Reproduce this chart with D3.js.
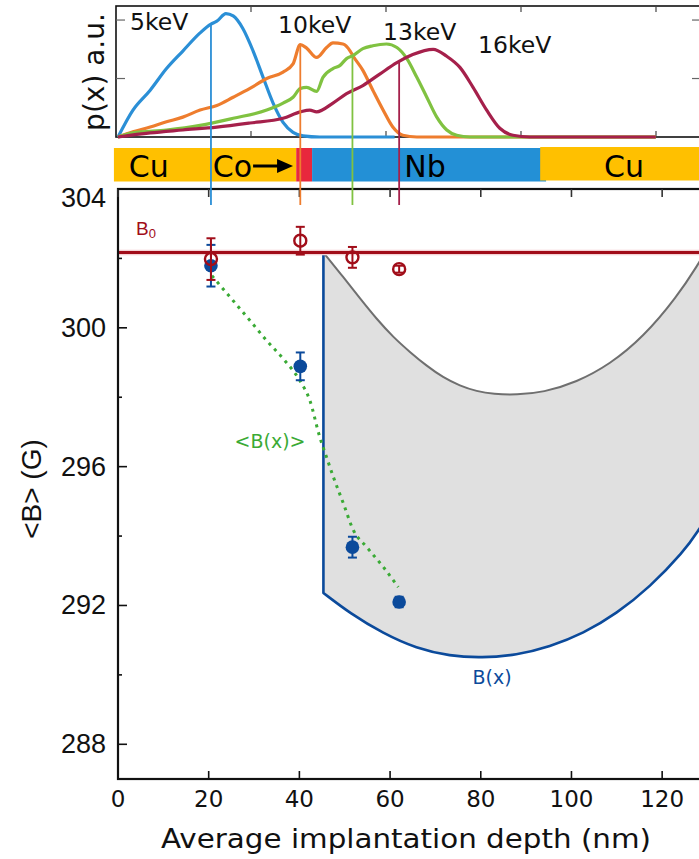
<!DOCTYPE html>
<html>
<head>
<meta charset="utf-8">
<script src="https://cdn.jsdelivr.net/npm/d3@7/dist/d3.min.js"></script>
<style>
  body { margin: 0; background: #fff; }
  svg { display: block; }
</style>
</head>
<body>
<div id="vis"></div>
<script>
// ---- data ----
const DEPTHS = [20.5, 40.2, 51.7, 62.0];            // average implantation depth (nm)
const ENERGIES = ["5keV", "10keV", "13keV", "16keV"];
const B_MEAN = [301.79, 298.89, 293.68, 292.10];     // filled blue points
const B_MEAN_ERR = [0.6, 0.4, 0.3, 0.15];
const B_REF = [301.98, 302.51, 302.03, 301.69];      // open red points
const B_REF_ERR = [0.6, 0.4, 0.3, 0.1];
const B0 = 302.17;

// <B(x)> dotted green curve
const B_AVG = [[20.7, 301.50], [25.4, 300.78], [29.1, 300.21], [32.8, 299.63], [36.5, 299.10],
  [40.1, 298.48], [42.3, 297.91], [44.5, 296.85], [46.0, 296.27], [47.5, 295.70],
  [49.7, 294.94], [51.9, 294.17], [54.8, 293.69], [58.5, 293.11], [61.8, 292.53]];

// B(x) lower blue curve, after the vertical step at the Nb edge
const B_STEP = [45.3, 302.17];
const B_LOWER = [[45.3, 292.36], [51.2, 291.77], [58.5, 291.19], [65.8, 290.76],
  [73.2, 290.54], [80.2, 290.49], [87.9, 290.57], [95.2, 290.81], [102.6, 291.19],
  [110.0, 291.77], [117.3, 292.53], [124.7, 293.54], [128.1, 294.17], [130.0, 294.6]];

// upper grey curve
const B_UPPER = [[45.4, 302.15], [49.7, 301.46], [53.4, 300.84], [57.0, 300.26], [60.7, 299.73],
  [64.4, 299.30], [68.0, 298.91], [71.7, 298.57], [75.4, 298.33], [79.1, 298.17],
  [82.8, 298.09], [87.9, 298.07], [93.8, 298.14], [101.1, 298.43], [108.5, 298.95],
  [115.8, 299.73], [123.2, 300.88], [128.0, 301.84], [130.0, 302.3]];

// implantation profiles p(x), arbitrary units
const PROFILE_5 = [[0, 0], [3.3, 0.46], [7.1, 0.80], [10.7, 1.17], [14.3, 1.47], [18.1, 1.78],
  [20.5, 1.93], [21.8, 1.98], [23.8, 2.11], [25.4, 2.07], [27.5, 1.86], [29.8, 1.47],
  [32.0, 1.02], [34.2, 0.58], [36.4, 0.25], [38.6, 0.08], [40.8, 0.02], [44.5, 0], [61, 0]];
const PROFILE_10 = [[0, 0], [3.3, 0.09], [7.1, 0.17], [10.7, 0.26], [14.3, 0.34], [18.1, 0.46],
  [21.8, 0.54], [25.4, 0.68], [29.1, 0.83], [32.8, 1.00], [36.4, 1.11], [38.6, 1.25],
  [40.2, 1.58], [41.6, 1.52], [43.8, 1.36], [46.0, 1.53], [47.4, 1.61], [49.6, 1.59],
  [51.2, 1.47], [51.8, 1.39], [54.0, 1.14], [56.2, 0.80], [58.4, 0.47], [60.6, 0.17],
  [62.8, 0.03], [65.9, 0], [118.6, 0]];
const PROFILE_13 = [[0, 0], [3.3, 0.07], [10.7, 0.12], [18.1, 0.20], [25.4, 0.32], [32.8, 0.46],
  [36.4, 0.58], [38.6, 0.68], [40.2, 0.83], [41.6, 0.85], [43.8, 0.78], [45.2, 1.02],
  [47.4, 1.17], [48.9, 1.22], [50.4, 1.34], [51.8, 1.39], [54.0, 1.51], [56.2, 1.56],
  [59.2, 1.59], [61.5, 1.53], [63.7, 1.34], [65.9, 1.02], [68.1, 0.68], [70.3, 0.34],
  [72.5, 0.12], [74.7, 0.03], [77.6, 0], [118.6, 0]];
const PROFILE_16 = [[0, 0], [7.1, 0.07], [14.3, 0.12], [21.8, 0.17], [29.1, 0.24], [36.4, 0.32],
  [40.2, 0.43], [42.3, 0.46], [43.8, 0.43], [47.4, 0.58], [50.4, 0.74], [54.0, 0.88],
  [57.8, 1.08], [61.5, 1.27], [65.0, 1.41], [69.5, 1.50], [72.5, 1.38], [75.4, 1.19],
  [78.3, 0.85], [81.3, 0.46], [84.2, 0.15], [87.1, 0.03], [90.8, 0], [118.6, 0]];
const PROFILES = [PROFILE_5, PROFILE_10, PROFILE_13, PROFILE_16];
const LINE_TOPS = [1.94, 1.58, 1.39, 1.28];          // where the depth markers meet their profile

// sample layers
const LAYERS = ["Cu", "Co", "Nb", "Cu"];
const LAYER_START = [-0.9, 39.3, 42.8, 93.1];
const LAYER_END = [39.3, 42.8, 94.4, 135];

// ticks
const X_TICKS = [0, 20, 40, 60, 80, 100, 120];
const Y_TICKS = [288, 292, 296, 300, 304];
const Y_MINOR = [290, 294, 298, 302];
const TOP_X_TICKS = [30, 60, 90, 120];
const TOP_Y_TICKS = [1, 2];

// ---- layout ----
const WIDTH = 699;
const HEIGHT = 859;
const SANS = "'DejaVu Sans', sans-serif";
const ARIAL = "'Liberation Sans', Arial, sans-serif";
const COLORES = ["#2b8fd6", "#ee7d2e", "#80c241", "#a5204b"];
const COLORES_CAPA = { "Cu": "#ffc000", "Co": "#e8283d", "Nb": "#2390d6" };
const AZUL = "#0b4a9b";
const ROJO = "#a10d19";
const VERDE = "#3aaa35";

const SVG = d3.select("#vis").append("svg")
  .attr("width", WIDTH).attr("height", HEIGHT);

const xMain = d3.scaleLinear().domain([0, 130]).range([118, 707.5]);
const xTop = d3.scaleLinear().domain([0, 130]).range([116, 701]);
const yTop = d3.scaleLinear().domain([0, 2.24]).range([137, 6]);
const yMain = d3.scaleLinear().domain([287, 304]).range([779, 189]);

// ---- top panel: implantation profiles ----
const panelTop = SVG.append("g");
panelTop.append("rect")
  .attr("x", 116).attr("y", 6).attr("width", 620).attr("height", 131)
  .attr("fill", "none").attr("stroke", "#111").attr("stroke-width", 1.6);

TOP_X_TICKS.forEach(t => {
  panelTop.append("line").attr("x1", xTop(t)).attr("x2", xTop(t)).attr("y1", 137).attr("y2", 131)
    .attr("stroke", "#444").attr("stroke-width", 1.2);
  panelTop.append("line").attr("x1", xTop(t)).attr("x2", xTop(t)).attr("y1", 6).attr("y2", 12)
    .attr("stroke", "#444").attr("stroke-width", 1.2);
});
TOP_Y_TICKS.forEach(t => {
  panelTop.append("line").attr("x1", 116).attr("x2", 125).attr("y1", yTop(t)).attr("y2", yTop(t))
    .attr("stroke", "#666").attr("stroke-width", 1.2);
  panelTop.append("line").attr("x1", 692).attr("x2", 699).attr("y1", yTop(t)).attr("y2", yTop(t))
    .attr("stroke", "#666").attr("stroke-width", 1.2);
});

const lineaTop = d3.line().x(d => xMain(d[0])).y(d => yTop(d[1])).curve(d3.curveMonotoneX);
panelTop.selectAll("path.perfil")
  .data(PROFILES)
  .join("path")
  .attr("class", "perfil")
  .attr("d", d => lineaTop(d))
  .attr("fill", "none")
  .attr("stroke", (d, i) => COLORES[i])
  .attr("stroke-width", 3.2)
  .attr("stroke-linejoin", "round");

const ETIQUETAS_TOP = [[130, 30], [278, 33], [383, 40], [478, 53]];
panelTop.selectAll("text.energia")
  .data(ENERGIES)
  .join("text")
  .attr("class", "energia")
  .attr("x", (d, i) => ETIQUETAS_TOP[i][0])
  .attr("y", (d, i) => ETIQUETAS_TOP[i][1])
  .attr("font-family", SANS).attr("font-size", 23.5).attr("fill", "#111")
  .text(d => d);

panelTop.append("text")
  .attr("transform", "translate(104,72) rotate(-90)")
  .attr("text-anchor", "middle")
  .attr("font-family", SANS).attr("font-size", 28).attr("fill", "#111")
  .text("p(x) a.u.");

// ---- layer bar ----
const capas = SVG.append("g");
LAYERS.forEach((c, i) => {
  const off = i === 3 ? -1 : 0;
  capas.append("rect")
    .attr("x", xMain(LAYER_START[i])).attr("y", 148 + off)
    .attr("width", xMain(LAYER_END[i]) - xMain(LAYER_START[i])).attr("height", 33.5)
    .attr("fill", COLORES_CAPA[c]);
});
const CAPA_TEXTO = [[6.8, "middle"], [20.9, "start"], [67.7, "middle"], [111.6, "middle"]];
LAYERS.forEach((c, i) => {
  if (c === "Co") {
    const t = capas.append("text")
      .attr("x", xMain(CAPA_TEXTO[i][0])).attr("y", 176.5)
      .attr("font-family", SANS).attr("font-size", 30).attr("fill", "#000")
      .text(c);
    const x0 = xMain(CAPA_TEXTO[i][0]) + t.node().getComputedTextLength() + 1;
    const x1 = xMain(38.6);
    capas.append("line").attr("x1", x0).attr("x2", x1 - 12).attr("y1", 166).attr("y2", 166)
      .attr("stroke", "#000").attr("stroke-width", 3);
    capas.append("path")
      .attr("d", `M${x1},166 L${x1 - 16},159 L${x1 - 16},173 Z`)
      .attr("fill", "#000");
  } else {
    capas.append("text")
      .attr("x", xMain(CAPA_TEXTO[i][0])).attr("y", 176.5)
      .attr("text-anchor", CAPA_TEXTO[i][1])
      .attr("font-family", SANS).attr("font-size", 30).attr("fill", "#000")
      .text(c);
  }
});

// ---- main panel ----
const gMain = SVG.append("g");
gMain.append("clipPath").attr("id", "clip")
  .append("rect").attr("x", 118).attr("y", 189).attr("width", 590).attr("height", 590);

const plot = gMain.append("g").attr("clip-path", "url(#clip)");

const suave = d3.line().x(d => xMain(d[0])).y(d => yMain(d[1])).curve(d3.curveBasis);
const pathUpper = suave(B_UPPER);
const pathLower = suave(B_LOWER);
const pathLowerRev = suave(B_LOWER.slice().reverse());

// shaded region between the two field profiles
plot.append("path")
  .attr("d", pathUpper + pathLowerRev.replace("M", "L") + "Z")
  .attr("fill", "#e0e0e0");

plot.append("path")
  .attr("d", pathUpper)
  .attr("fill", "none").attr("stroke", "#6f6f6f").attr("stroke-width", 2);

plot.append("path")
  .attr("d", `M${xMain(B_STEP[0])},${yMain(B_STEP[1])}` + pathLower.replace("M", "L"))
  .attr("fill", "none").attr("stroke", AZUL).attr("stroke-width", 2.6)
  .attr("stroke-linejoin", "round");

// B0 reference line
plot.append("rect")
  .attr("x", 118).attr("y", yMain(B0) - 2.8).attr("width", 600).attr("height", 5.6)
  .attr("fill", "#f4d3d5");
plot.append("line")
  .attr("x1", 118).attr("x2", 710).attr("y1", yMain(B0)).attr("y2", yMain(B0))
  .attr("stroke", ROJO).attr("stroke-width", 3.2);

// <B(x)> dotted
plot.append("path")
  .attr("d", d3.line().x(d => xMain(d[0])).y(d => yMain(d[1])).curve(d3.curveMonotoneX)(B_AVG))
  .attr("fill", "none").attr("stroke", VERDE).attr("stroke-width", 3)
  .attr("stroke-dasharray", "3,5");

// frame
gMain.append("rect")
  .attr("x", 118).attr("y", 189).attr("width", 590).attr("height", 590)
  .attr("fill", "none").attr("stroke", "#111").attr("stroke-width", 2.2);

X_TICKS.forEach(t => {
  gMain.append("line").attr("x1", xMain(t)).attr("x2", xMain(t)).attr("y1", 779).attr("y2", 771)
    .attr("stroke", "#111").attr("stroke-width", 1.6);
  gMain.append("line").attr("x1", xMain(t)).attr("x2", xMain(t)).attr("y1", 189).attr("y2", 197)
    .attr("stroke", "#333").attr("stroke-width", 1.6);
  gMain.append("text")
    .attr("x", xMain(t)).attr("y", 806.5).attr("text-anchor", "middle")
    .attr("font-family", SANS).attr("font-size", 23).attr("fill", "#111")
    .text(t);
});
Y_TICKS.forEach(t => {
  gMain.append("line").attr("x1", 118).attr("x2", 127).attr("y1", yMain(t)).attr("y2", yMain(t))
    .attr("stroke", "#111").attr("stroke-width", 1.6);
  gMain.append("text")
    .attr("x", 106).attr("y", Math.max(yMain(t), 198)).attr("text-anchor", "end")
    .attr("dominant-baseline", "central")
    .attr("font-family", ARIAL).attr("font-size", 27).attr("fill", "#111")
    .text(t);
});
Y_MINOR.forEach(t => {
  gMain.append("line").attr("x1", 118).attr("x2", 122).attr("y1", yMain(t)).attr("y2", yMain(t))
    .attr("stroke", "#111").attr("stroke-width", 1.6);
});

gMain.append("text")
  .attr("x", 406).attr("y", 848).attr("text-anchor", "middle")
  .attr("font-family", SANS).attr("font-size", 26).attr("fill", "#111")
  .attr("textLength", 490).attr("lengthAdjust", "spacingAndGlyphs")
  .text("Average implantation depth (nm)");

gMain.append("text")
  .attr("transform", "translate(41,489) rotate(-90)")
  .attr("text-anchor", "middle")
  .attr("font-family", ARIAL).attr("font-size", 28).attr("fill", "#111")
  .text("<B> (G)");

// depth markers crossing both panels
SVG.selectAll("line.marca")
  .data(DEPTHS)
  .join("line")
  .attr("class", "marca")
  .attr("x1", d => xMain(d)).attr("x2", d => xMain(d))
  .attr("y1", (d, i) => yTop(LINE_TOPS[i])).attr("y2", 205)
  .attr("stroke", (d, i) => COLORES[i])
  .attr("stroke-width", 1.8);

// data points
const puntos = SVG.append("g");
const errBar = (g, x, y, e, color) => {
  g.append("line").attr("x1", x).attr("x2", x).attr("y1", yMain(y - e)).attr("y2", yMain(y + e))
    .attr("stroke", color).attr("stroke-width", 2);
  [y - e, y + e].forEach(v => g.append("line")
    .attr("x1", x - 4.5).attr("x2", x + 4.5).attr("y1", yMain(v)).attr("y2", yMain(v))
    .attr("stroke", color).attr("stroke-width", 2));
};
DEPTHS.forEach((d, i) => {
  errBar(puntos, xMain(d), B_MEAN[i], B_MEAN_ERR[i], AZUL);
  puntos.append("circle").attr("cx", xMain(d)).attr("cy", yMain(B_MEAN[i])).attr("r", 6.8)
    .attr("fill", AZUL);
});
DEPTHS.forEach((d, i) => {
  errBar(puntos, xMain(d), B_REF[i], B_REF_ERR[i], ROJO);
  puntos.append("circle").attr("cx", xMain(d)).attr("cy", yMain(B_REF[i])).attr("r", 6)
    .attr("fill", "none").attr("stroke", ROJO).attr("stroke-width", 2.4);
});

// annotations
const b0 = gMain.append("text")
  .attr("x", 136).attr("y", 235)
  .attr("font-family", ARIAL).attr("font-size", 19).attr("fill", ROJO);
b0.append("tspan").text("B");
b0.append("tspan").attr("font-size", 13).attr("dy", 3).text("0");

gMain.append("text")
  .attr("x", 270).attr("y", 448).attr("text-anchor", "middle")
  .attr("font-family", SANS).attr("font-size", 19).attr("fill", VERDE)
  .text("<B(x)>");

gMain.append("text")
  .attr("x", 492).attr("y", 684).attr("text-anchor", "middle")
  .attr("font-family", SANS).attr("font-size", 19).attr("fill", AZUL)
  .text("B(x)");
</script>
</body>
</html>
